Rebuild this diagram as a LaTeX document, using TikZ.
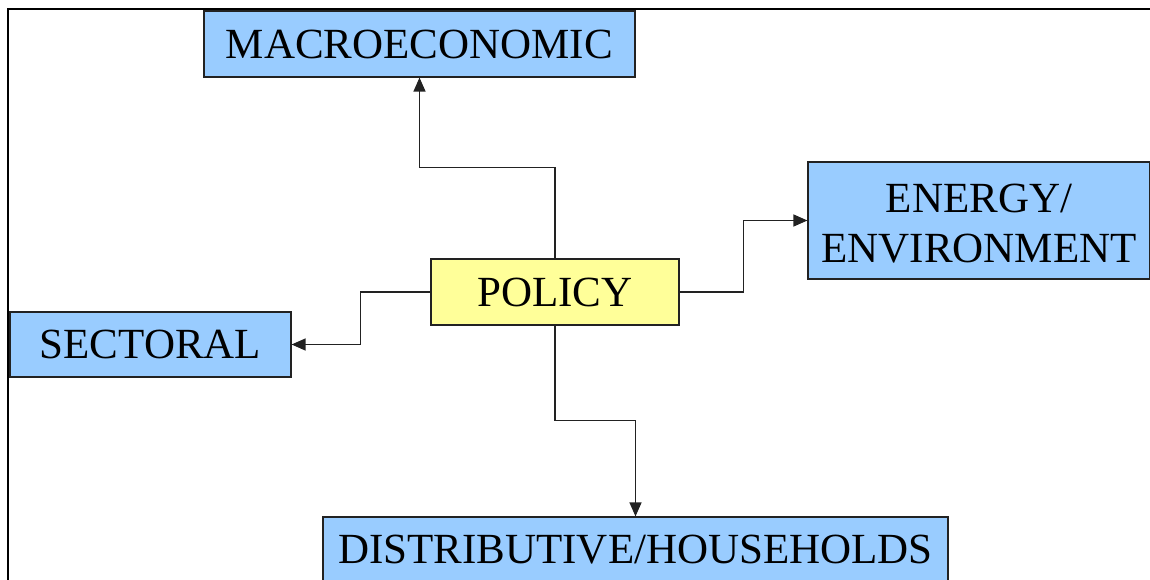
\documentclass[tikz,border=0pt]{standalone}
\usepackage{fontspec}
\setmainfont{Liberation Serif}
\usetikzlibrary{arrows.meta}
\definecolor{boxblue}{HTML}{99CCFF}
\definecolor{boxyellow}{HTML}{FFFF99}
\definecolor{edge}{HTML}{222222}
\begin{document}
\begin{tikzpicture}[x=1pt,y=-1pt,
  box/.style={draw=edge,line width=1.2pt,fill=boxblue,rectangle,inner sep=0pt,align=center,
    font=\fontsize{43}{50}\selectfont},
  arr/.style={draw=edge,line width=1.3pt,-{Triangle[length=14pt,width=12pt]}}]
\useasboundingbox (0,0) rectangle (1150,580);
\clip (0,0) rectangle (1150,580);
\fill[white] (0,0) rectangle (1150,580);
\draw[line width=1.7pt] (8,585) -- (8,9) -- (1155,9);
\node[box,minimum width=431pt,minimum height=66pt] (macro) at (419.5,44) {MACROECONOMIC};
\node[box,fill=boxyellow,minimum width=248pt,minimum height=66pt] (policy) at (555,292) {POLICY};
\node[box,minimum width=281pt,minimum height=65pt] (sectoral) at (150.5,344.5) {SECTORAL};
\node[box,minimum width=342pt,minimum height=117pt] (energy) at (979,220.5) {};
\node[font=\fontsize{43}{50}\selectfont,align=center,inner sep=0pt] (energytext) at (979,224) {ENERGY/\\ENVIRONMENT};
\node[box,minimum width=625pt,minimum height=66pt] (distrib) at (635.5,550) {DISTRIBUTIVE/HOUSEHOLDS};
\draw[arr] (policy.north) -- ++(0,-91) -| (macro.south);
\draw[arr] (policy.east) -- ++(64,0) |- (energy.west);
\draw[arr] (policy.west) -- ++(-70,0) |- (sectoral.east);
\draw[arr] (policy.south) -- ++(0,95) -| (distrib.north);
\end{tikzpicture}
\end{document}
